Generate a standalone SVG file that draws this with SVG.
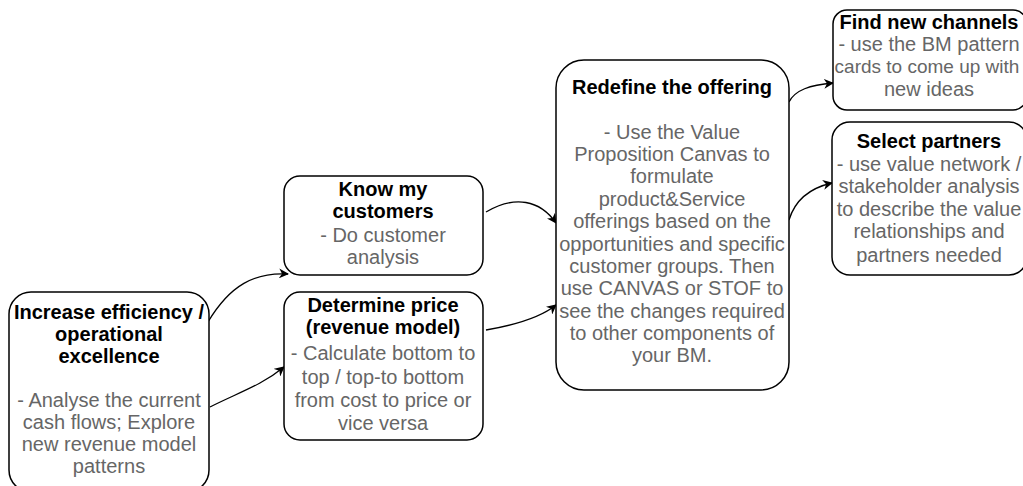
<svg xmlns="http://www.w3.org/2000/svg" width="1023" height="486" viewBox="0 0 1023 486">
<defs>
<marker id="arr" viewBox="0 0 10 10" refX="9" refY="5" markerWidth="10" markerHeight="10" markerUnits="userSpaceOnUse" orient="auto">
<path d="M0,0 L10,5 L0,10 L3,5 Z" fill="#000"/>
</marker>
<style>
.box{fill:#fff;stroke:#000;stroke-width:1.5}
.t{font-family:"Liberation Sans",Arial,sans-serif;font-size:20px;text-anchor:middle}
.b{font-weight:bold;fill:#000}
.g{fill:#666}
.c{fill:none;stroke:#000;stroke-width:1.3}
</style>
</defs>
<rect width="1023" height="486" fill="#fff"/>
<g id="connectors">
<path class="c" d="M208,322 C230,285 255,272 288,274" marker-end="url(#arr)"/>
<path class="c" d="M210,407 C240,392 262,385 284,367" marker-end="url(#arr)"/>
<path class="c" d="M486,212 C515,195 540,200 556,223" marker-end="url(#arr)"/>
<path class="c" d="M486,330 C515,325 540,318 556,305" marker-end="url(#arr)"/>
<path class="c" d="M789,102 C795,90 810,85 833,83" marker-end="url(#arr)"/>
<path class="c" d="M789,220 C795,200 810,188 832,183" marker-end="url(#arr)"/>
</g>
<g id="n1">
<rect class="box" x="9" y="292" width="200" height="200" rx="22"/>
<text class="t b" x="109" y="319">Increase efficiency /</text>
<text class="t b" x="109" y="341">operational</text>
<text class="t b" x="109" y="363">excellence</text>
<text class="t g" x="109" y="407">- Analyse the current</text>
<text class="t g" x="109" y="429">cash flows; Explore</text>
<text class="t g" x="109" y="451">new revenue model</text>
<text class="t g" x="109" y="473">patterns</text>
</g>
<g id="n2">
<rect class="box" x="284" y="176" width="199" height="99" rx="16"/>
<text class="t b" x="383" y="196">Know my</text>
<text class="t b" x="383" y="218">customers</text>
<text class="t g" x="383" y="242">- Do customer</text>
<text class="t g" x="383" y="264">analysis</text>
</g>
<g id="n3">
<rect class="box" x="284" y="292" width="199" height="148" rx="16"/>
<text class="t b" x="383" y="312">Determine price</text>
<text class="t b" x="383" y="334">(revenue model)</text>
<text class="t g" x="383" y="360">- Calculate bottom to</text>
<text class="t g" x="383" y="384">top / top-to bottom</text>
<text class="t g" x="383" y="407">from cost to price or</text>
<text class="t g" x="383" y="430">vice versa</text>
</g>
<g id="n4">
<rect class="box" x="556" y="60" width="233" height="330" rx="28"/>
<text class="t b" x="672" y="94">Redefine the offering</text>
<text class="t g" x="672" y="139">- Use the Value</text>
<text class="t g" x="672" y="161">Proposition Canvas to</text>
<text class="t g" x="672" y="183">formulate</text>
<text class="t g" x="672" y="206">product&amp;Service</text>
<text class="t g" x="672" y="228">offerings based on the</text>
<text class="t g" x="672" y="251">opportunities and specific</text>
<text class="t g" x="672" y="273">customer groups. Then</text>
<text class="t g" x="672" y="295">use CANVAS or STOF to</text>
<text class="t g" x="672" y="318">see the changes required</text>
<text class="t g" x="672" y="340">to other components of</text>
<text class="t g" x="672" y="362">your BM.</text>
</g>
<g id="n5">
<rect class="box" x="833" y="10" width="194" height="100" rx="14"/>
<text class="t b" x="929" y="29">Find new channels</text>
<text class="t g" x="929" y="51">- use the BM pattern</text>
<text class="t g" x="927" y="73" style="font-size:19px">cards to come up with</text>
<text class="t g" x="929" y="96">new ideas</text>
</g>
<g id="n6">
<rect class="box" x="832" y="122" width="195" height="153" rx="18"/>
<text class="t b" x="929" y="148">Select partners</text>
<text class="t g" x="929" y="171">- use value network /</text>
<text class="t g" x="929" y="193">stakeholder analysis</text>
<text class="t g" x="929" y="216">to describe the value</text>
<text class="t g" x="929" y="238">relationships and</text>
<text class="t g" x="929" y="262">partners needed</text>
</g>
</svg>
